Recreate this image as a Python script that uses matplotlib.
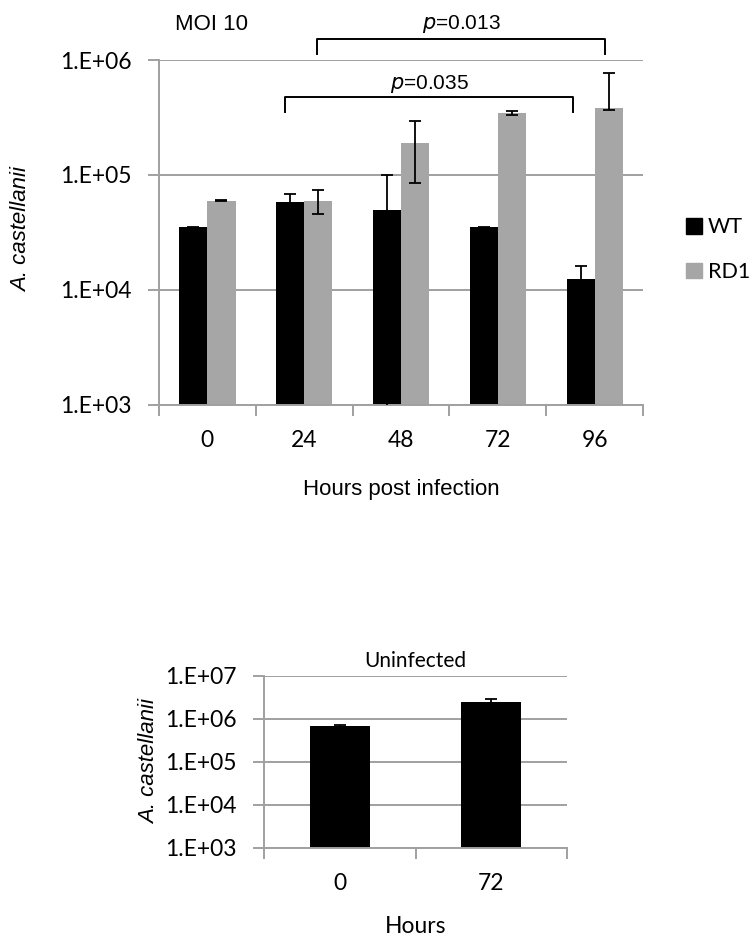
import matplotlib
matplotlib.use("Agg")
import matplotlib.pyplot as plt
import numpy as np
from matplotlib.patches import Patch

# top panel: MOI 10
hours = ["0", "24", "48", "72", "96"]
wt_vals = [35000, 58000, 50000, 35000, 12500]
wt_err = [500, 11000, 50000, 500, 3600]
rd1_vals = [60000, 60000, 190000, 345000, 380000]
rd1_err_lo = [700, 14000, 105000, 15000, 13000]
rd1_err_hi = [700, 14000, 105000, 15000, 385000]

# bottom panel: uninfected
uninf_hours = ["0", "72"]
uninf_vals = [680000, 2500000]
uninf_err = [24000, 380000]

CAL = "Lato"
ARIAL = "Liberation Sans"
GRID = "#a0a0a0"
GREY = "#a6a6a6"

fig = plt.figure(figsize=(7.53, 9.42), dpi=100)


def style_axes(ax, ymin, ymax, ncat):
    ax.set_yscale("log")
    ax.set_ylim(ymin, ymax)
    ax.set_xlim(-0.5, ncat - 0.5)
    for s in ["top", "right"]:
        ax.spines[s].set_visible(False)
    for s in ["left", "bottom"]:
        ax.spines[s].set_color(GRID)
        ax.spines[s].set_linewidth(1.4)
    ax.yaxis.grid(True, color=GRID, linewidth=1.4)
    ax.set_axisbelow(True)
    ax.minorticks_off()
    decades = 10.0 ** np.arange(np.log10(ymin), np.log10(ymax) + 1)
    ax.set_yticks(decades)
    ax.set_yticklabels(["1.E+%02d" % int(np.log10(d)) for d in decades],
                       fontfamily=CAL, fontsize=16.5)
    ax.tick_params(axis="y", length=8, width=1.4, color=GRID, pad=12)
    # category boundary ticks
    ax.set_xticks(np.arange(-0.5, ncat), minor=True)
    ax.tick_params(axis="x", which="minor", length=8, width=1.4, color=GRID,
                   direction="out")
    ax.tick_params(axis="x", which="major", length=0, pad=18)


# ---- top chart
ax = fig.add_axes([0.2112, 0.5701, 0.6428, 0.3662])
x = np.arange(len(hours))
w = 0.29
ax.bar(x - w / 2, wt_vals, w, color="black", zorder=2)
ax.bar(x + w / 2, rd1_vals, w, color=GREY, zorder=2)
ax.errorbar(x - w / 2, wt_vals, yerr=wt_err, fmt="none", ecolor="black",
            elinewidth=1.3, capsize=4.5, capthick=1.3, zorder=3)
ax.errorbar(x + w / 2, rd1_vals, yerr=[rd1_err_lo, rd1_err_hi], fmt="none",
            ecolor="black", elinewidth=1.3, capsize=4.5, capthick=1.3, zorder=3)
style_axes(ax, 1e3, 1e6, len(hours))
ax.set_xticks(x)
ax.set_xticklabels(hours, fontfamily=CAL, fontsize=16.5)
ax.set_xlabel("Hours post infection", fontfamily=ARIAL, fontsize=16, labelpad=20)
ax.set_ylabel("A. castellanii", fontfamily=ARIAL, fontsize=16, style="italic")
ax.yaxis.set_label_coords(-0.262, 0.51)

# significance brackets
def bracket(ax, x0, x1, y, leg, text, ty):
    ax.plot([x0, x0, x1, x1], [leg, y, y, leg], color="black", lw=1.4,
            clip_on=False, zorder=4)
    ax.text((x0 + x1) / 2, ty, text, ha="center", va="center",
            fontfamily=ARIAL, fontsize=15, clip_on=False)

bracket(ax, 1.13, 4.11, 10 ** 6.18, 10 ** 6.05, "$\\it{p}$=0.013", 10 ** 6.31)
bracket(ax, 0.80, 3.78, 10 ** 5.68, 10 ** 5.55, "$\\it{p}$=0.035", 10 ** 5.79)
fig.text(175 / 753, 1 - 25 / 942, "MOI 10", fontfamily=ARIAL, fontsize=16,
         ha="left", va="center")

handles = [Patch(color="black"), Patch(color=GREY)]
fig.legend(handles, ["WT", "RD1"], loc="center left",
           bbox_to_anchor=(0.911, 0.735), frameon=False, borderpad=0,
           borderaxespad=0, handlelength=0.75, handleheight=0.75,
           handletextpad=0.25, labelspacing=1.15,
           prop={"family": CAL, "size": 15.5})

# ---- bottom chart
ax2 = fig.add_axes([0.351, 0.1001, 0.4016, 0.1826])
x2 = np.arange(len(uninf_hours))
ax2.bar(x2, uninf_vals, 0.4, color="black", zorder=2)
ax2.errorbar(x2, uninf_vals, yerr=uninf_err, fmt="none", ecolor="black",
             elinewidth=1.3, capsize=4.5, capthick=1.3, zorder=3)
style_axes(ax2, 1e3, 1e7, len(uninf_hours))
ax2.set_xticks(x2)
ax2.set_xticklabels(uninf_hours, fontfamily=CAL, fontsize=16.5)
ax2.set_xlabel("Hours", fontfamily=CAL, fontsize=16.5, labelpad=16)
ax2.set_ylabel("A. castellanii", fontfamily=ARIAL, fontsize=16, style="italic")
ax2.yaxis.set_label_coords(-0.345, 0.5)
ax2.set_title("Uninfected", fontfamily=CAL, fontsize=15, pad=6)

fig.savefig("out.png", dpi=100)
